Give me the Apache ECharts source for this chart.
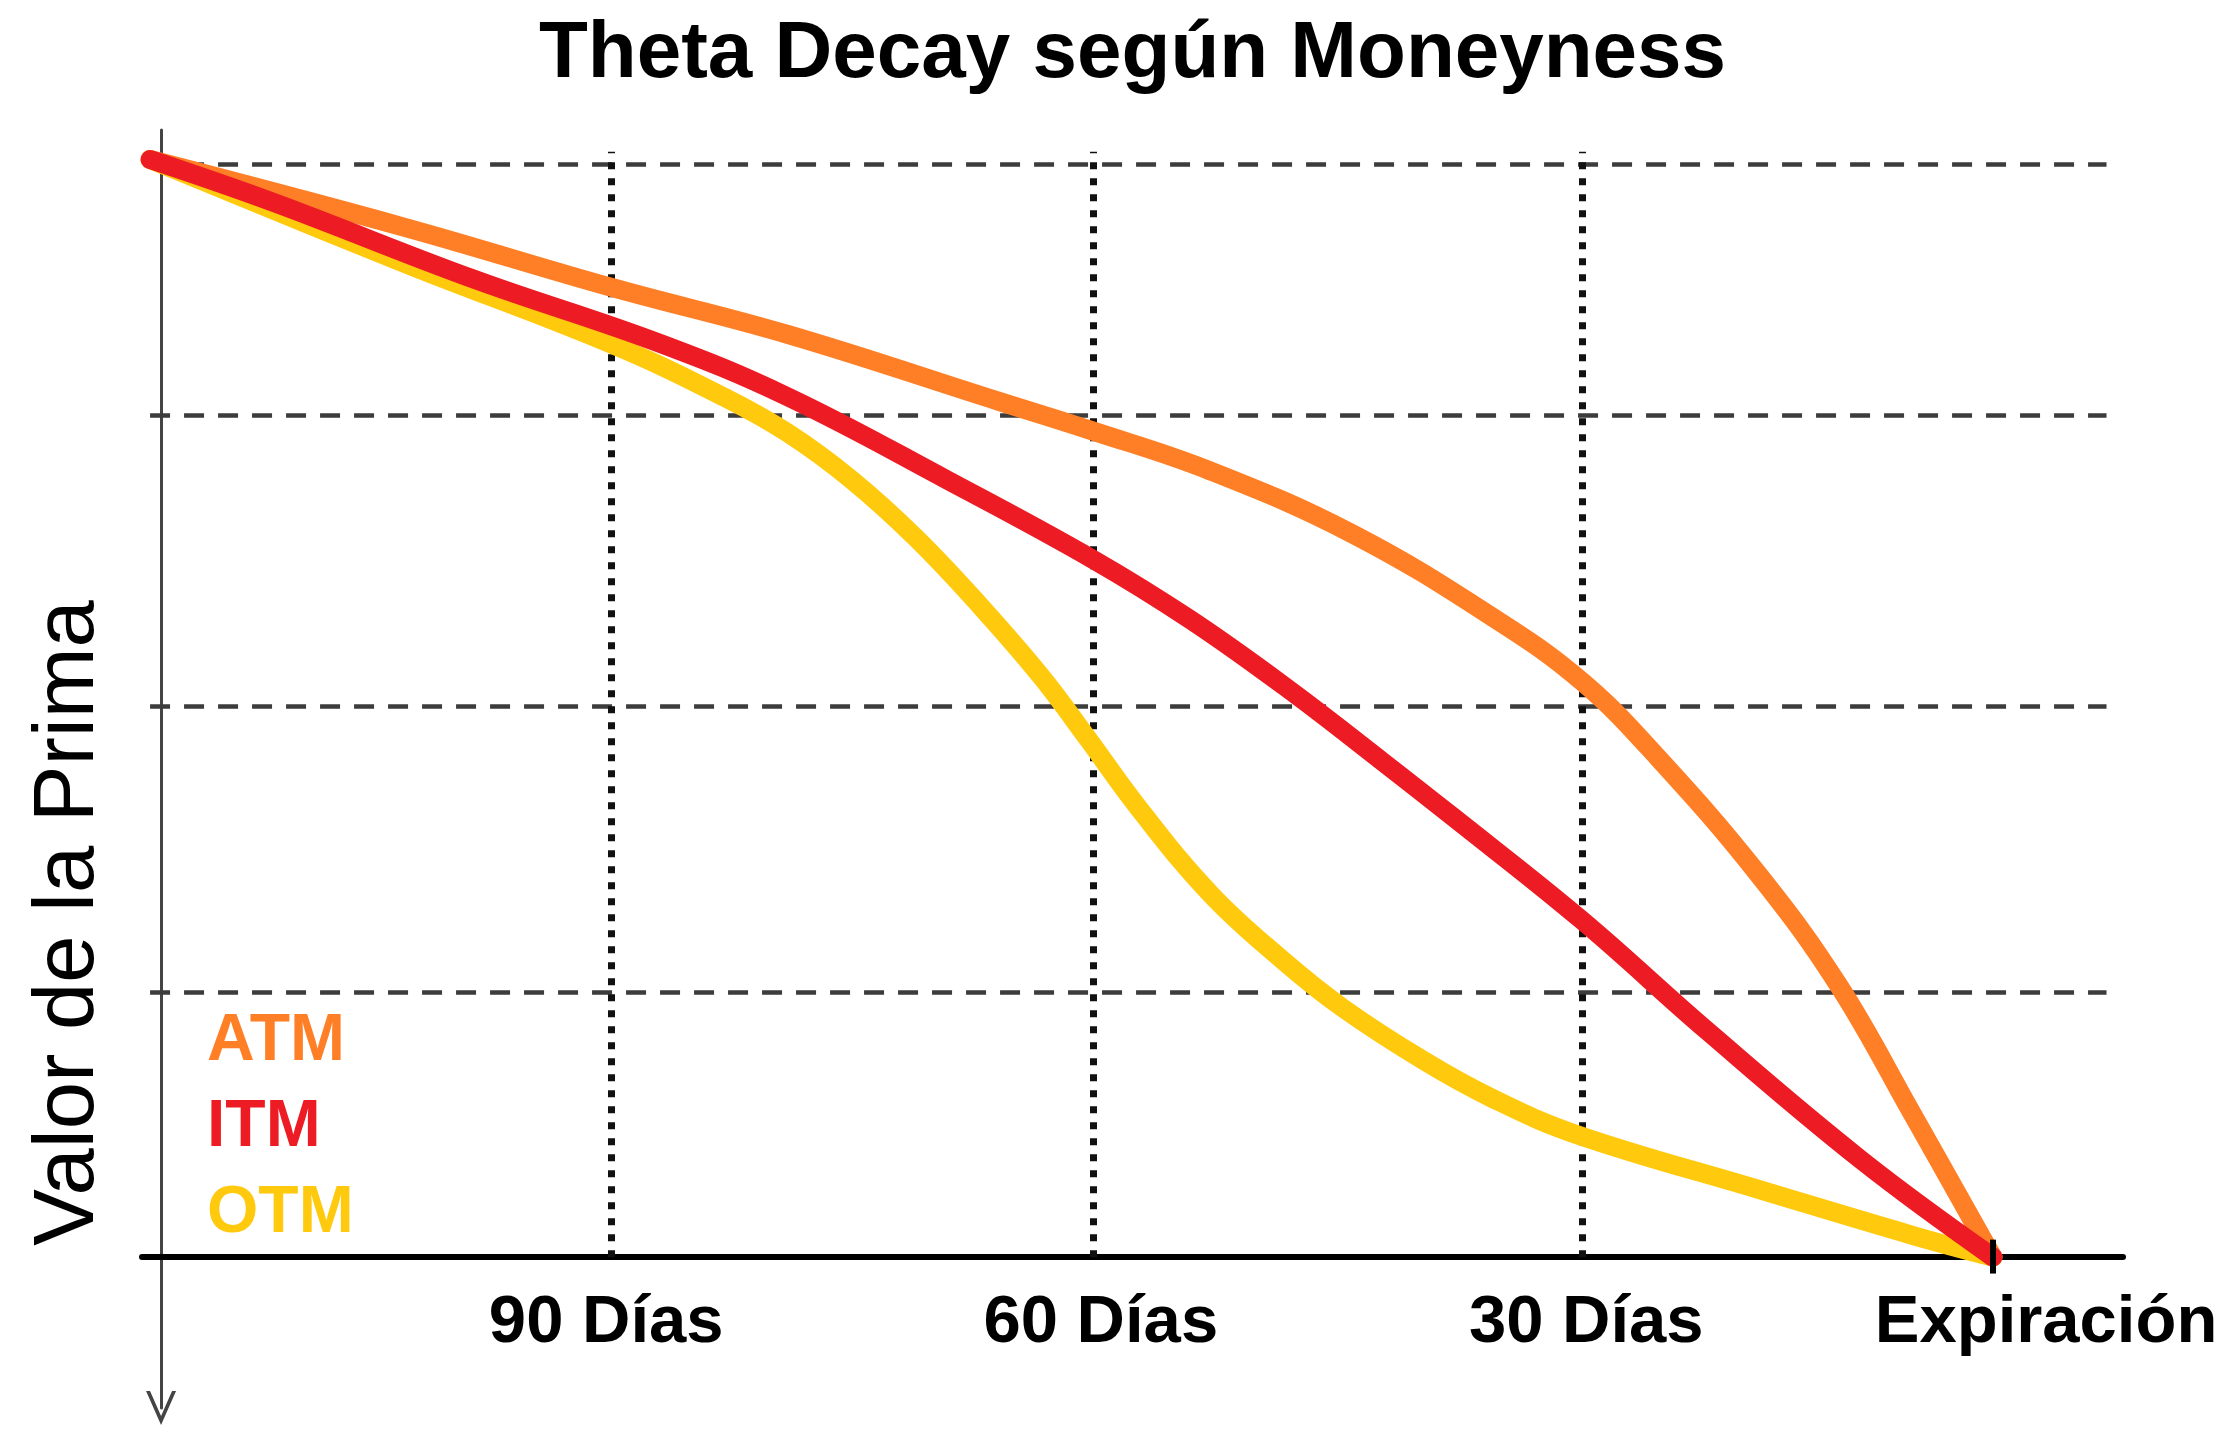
<!DOCTYPE html>
<html>
<head>
<meta charset="utf-8">
<title>Theta Decay según Moneyness</title>
<script src="https://cdn.jsdelivr.net/npm/echarts@6/dist/echarts.min.js"></script>
<style>
  html, body { margin: 0; padding: 0; background: #fff; }
  #chart { width: 2234px; height: 1432px; }
</style>
</head>
<body>
<div id="chart"></div>
<script>
var fontFamily = '"Liberation Sans", Arial, Helvetica, sans-serif'
var colorATM = '#ff7f27'
var colorITM = '#ed1c24'
var colorOTM = '#ffc90e'

// eje x: 0 = hoy, 100 = expiracion (posiciones)
var xLabels = ['90 Días', '60 Días', '30 Días', 'Expiración']
var xLabelPos = [24.3, 51.3, 77.8, 102.9]
var xGridPos = [24.6, 50.9, 77.6]
var yGridPos = [24.2, 50.4, 77.0, 100]

// valor de la prima [tiempo, valor]
var atmData = [[-0.6, 100.4], [13.3, 94.2], [24.6, 88.7], [34.2, 84.4], [45.7, 78.3], [50.8, 75.6],
  [57.3, 71.9], [65.1, 66.1], [72.9, 58.3], [77.6, 52.6], [81.7, 45.7], [87.2, 35.0],
  [91.6, 24.8], [95.6, 13.1], [100, 0]]
var itmData = [[-0.6, 100.4], [6.1, 96.5], [17.0, 89.5], [27.2, 83.6], [34.2, 78.7], [42.9, 71.1],
  [50.9, 63.8], [56.2, 58.3], [61.5, 52.0], [66.7, 45.3], [70.5, 40.3], [77.5, 30.9],
  [84.4, 20.7], [92.8, 8.9], [100, 0]]
var otmData = [[-0.6, 100.4], [13.3, 90.9], [24.6, 83.5], [30.7, 78.7], [34.2, 75.4], [37.7, 71.1],
  [41.2, 65.8], [44.7, 59.6], [48.1, 53.0], [50.6, 47.4], [53.4, 41.0], [57.3, 33.2],
  [61.2, 27.2], [64.5, 22.8], [69.0, 17.9], [72.7, 14.5], [77.3, 11.2], [87.2, 6.2],
  [95.6, 2.0], [100, 0]]

var chevron = 'path://M15,0 L30,34 L26,34 L15,9 L4,34 L0,34 Z'

function curve (name, color, data) {
  return {
    name: name,
    type: 'line',
    data: data,
    smooth: 0.4,
    showSymbol: false,
    z: 3,
    lineStyle: { color: color, width: 19, cap: 'round', join: 'round' },
    itemStyle: { color: color }
  }
}

var chart = echarts.init(document.getElementById('chart'))
var option = {
  animation: false,
  backgroundColor: '#fff',
  title: {
    text: 'Theta Decay según Moneyness',
    left: 534,
    top: 10,
    textStyle: { fontFamily: fontFamily, fontSize: 80, fontWeight: 'bold', color: '#000' }
  },
  legend: {
    orient: 'vertical',
    left: 197,
    top: 1004,
    icon: 'none',
    itemWidth: 0,
    itemHeight: 66,
    itemGap: 20,
    textStyle: { fontFamily: fontFamily, fontSize: 66, fontWeight: 'bold', lineHeight: 66 },
    data: [
      { name: 'ATM', textStyle: { color: colorATM } },
      { name: 'ITM', textStyle: { color: colorITM } },
      { name: 'OTM', textStyle: { color: colorOTM } }
    ]
  },
  graphic: [{
    type: 'text',
    x: 70,
    y: 923,
    rotation: Math.PI / 2,
    style: {
      text: 'Valor de la Prima',
      fontFamily: fontFamily,
      fontSize: 85,
      fill: '#000',
      textAlign: 'center',
      textVerticalAlign: 'middle'
    }
  }],
  grid: { left: 142, right: 111, top: 130, bottom: 24, containLabel: false, outerBoundsMode: 'none' },
  xAxis: {
    type: 'value',
    min: -1.04,
    max: 107.1,
    // la linea del eje se sube hasta el valor 0 del eje y
    offset: -151,
    axisLine: { onZero: false, lineStyle: { color: '#000', width: 6 } },
    axisTick: { show: false },
    splitLine: { show: false },
    axisLabel: {
      customValues: xLabelPos,
      margin: 33,
      fontFamily: fontFamily,
      fontSize: 67,
      fontWeight: 'bold',
      color: '#000',
      formatter: function (v) { return xLabels[xLabelPos.indexOf(v)] }
    }
  },
  yAxis: {
    type: 'value',
    min: -13.8,
    max: 103.1,
    axisLine: {
      show: true,
      onZero: true,
      symbol: [chevron, 'none'],
      symbolSize: [30, 34],
      lineStyle: { color: '#444', width: 3 }
    },
    axisTick: { show: false },
    axisLabel: { show: false },
    splitLine: { show: false }
  },
  series: [
    {
      name: 'rejilla-h',
      type: 'line',
      data: [],
      z: 1,
      markLine: {
        z: 1,
        silent: true,
        symbol: ['none', 'none'],
        label: { show: false },
        lineStyle: { color: '#3c3c3c', width: 4.5, type: [20, 14] },
        data: yGridPos.map(function (v) { return [{ coord: [-0.6, v] }, { coord: [106.2, v] }] })
      }
    },
    {
      name: 'rejilla-v',
      type: 'line',
      data: [],
      z: 1,
      markLine: {
        z: 1,
        silent: true,
        symbol: ['none', 'none'],
        label: { show: false },
        lineStyle: { color: '#111', width: 7, type: [7, 9] },
        data: xGridPos.map(function (v) { return [{ coord: [v, 0] }, { coord: [v, 101.1] }] })
      }
    },
    curve('ATM', colorATM, atmData),
    curve('OTM', colorOTM, otmData),
    curve('ITM', colorITM, itmData),
    {
      name: 'marca-exp',
      type: 'line',
      data: [],
      z: 10,
      markLine: {
        z: 10,
        silent: true,
        symbol: ['none', 'none'],
        label: { show: false },
        lineStyle: { color: '#000', width: 6, type: 'solid' },
        data: [[{ coord: [100, -1.5] }, { coord: [100, 1.6] }]]
      }
    }
  ]
}
chart.setOption(option)
window.addEventListener('resize', function () { chart.resize() })
</script>
</body>
</html>
